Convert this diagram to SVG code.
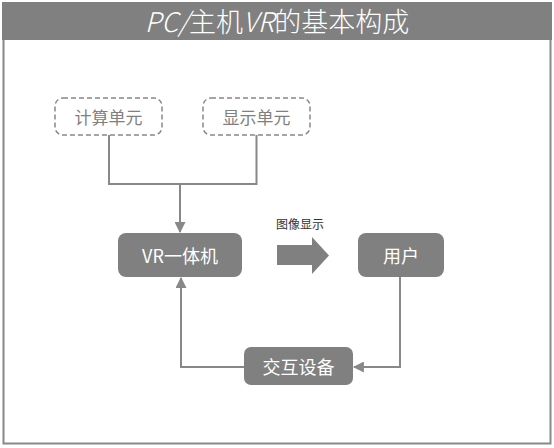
<svg xmlns="http://www.w3.org/2000/svg" width="554" height="448" viewBox="0 0 554 448">
<defs>
<style>
.dash{fill:#fff;stroke:#888;stroke-width:1.5;stroke-dasharray:5 3}
.solid{fill:#808080}
.t{font-family:"Noto Sans CJK SC","Microsoft YaHei",sans-serif;text-anchor:middle;dominant-baseline:central}
.wt{fill:#fff;font-size:18px}
.gt{fill:#808080;font-size:17px}
.ln{fill:none;stroke:#888;stroke-width:2}
.it{font-style:italic}
</style>
<marker id="ah" viewBox="0 0 10 10" refX="9" refY="5" markerWidth="5.5" markerHeight="5.5" orient="auto" markerUnits="strokeWidth">
<path d="M0,0 L10,5 L0,10 z" fill="#888"/>
</marker>
</defs>
<rect x="0" y="0" width="554" height="448" fill="#fff"/>
<rect x="3.5" y="3.5" width="547" height="440" fill="#fff" stroke="#888" stroke-width="2"/>
<rect x="2" y="2" width="550" height="38" fill="#808080"/>
<text class="t" x="277" y="20" fill="#fff" font-size="27" font-weight="300"><tspan class="it">PC/</tspan>主机<tspan class="it">VR</tspan>的基本构成</text>
<g id="connectors">
<polyline class="ln" points="109,135 109,184 256.5,184 256.5,135"/>
<line class="ln" x1="180" y1="184" x2="180" y2="232" marker-end="url(#ah)"/>
<polyline class="ln" points="400,277 400,367 354,367" marker-end="url(#ah)"/>
<polyline class="ln" points="244,367 181,367 181,278" marker-end="url(#ah)"/>
</g>
<g id="n1">
<rect class="dash" x="55" y="98" width="107" height="37" rx="8"/>
<text class="t gt" x="108.5" y="116.5">计算单元</text>
</g>
<g id="n2">
<rect class="dash" x="203" y="98" width="107" height="37" rx="8"/>
<text class="t gt" x="256.5" y="116.5">显示单元</text>
</g>
<g id="n3">
<rect class="solid" x="118" y="233" width="124" height="44" rx="8"/>
<text class="t wt" x="180" y="255">VR一体机</text>
</g>
<g id="n4">
<rect class="solid" x="358" y="233" width="86" height="44" rx="8"/>
<text class="t wt" x="401" y="255">用户</text>
</g>
<g id="n5">
<rect class="solid" x="244" y="347" width="109" height="38" rx="7"/>
<text class="t wt" x="298.5" y="366">交互设备</text>
</g>
<g id="arrow">
<path d="M277,245 L312,245 L312,237 L329,255.5 L312,274 L312,265 L277,265 z" fill="#808080"/>
<text class="t" x="300" y="223" fill="#333" font-size="12">图像显示</text>
</g>
</svg>
